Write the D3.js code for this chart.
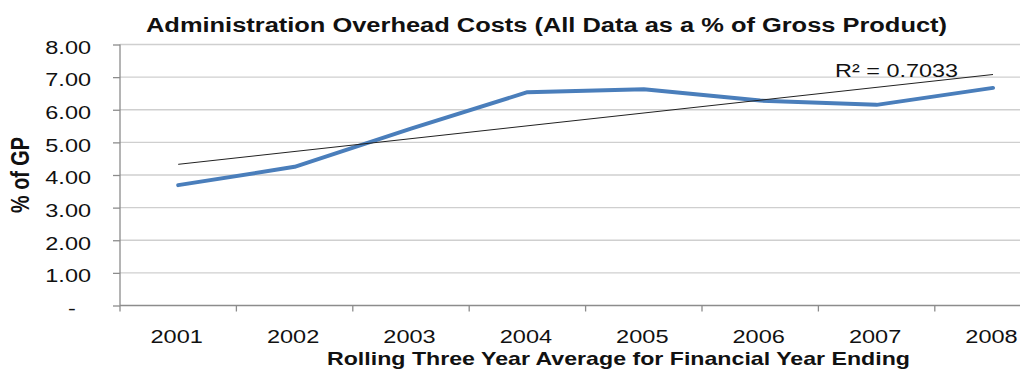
<!DOCTYPE html>
<html>
<head>
<meta charset="utf-8">
<script src="https://cdn.jsdelivr.net/npm/d3@7"></script>
<style>
  html, body { margin: 0; padding: 0; background: #fff; overflow: hidden; }
  svg { display: block; font-family: "Liberation Sans", Arial, sans-serif; }
</style>
</head>
<body>
<svg id="chart" width="1020" height="369"></svg>
<script>
// Rolling three-year average of admin overhead, % of gross product
const years = ["2001", "2002", "2003", "2004", "2005", "2006", "2007", "2008"];
const overheadPct = [3.69, 4.25, 5.42, 6.54, 6.63, 6.28, 6.15, 6.67];
const yTicks = [0, 1, 2, 3, 4, 5, 6, 7, 8];
const r2Label = "R\u00B2 = 0.7033";

const svg = d3.select("#chart");
const plotLeft = 120, plotTop = 44.5, plotBottom = 305.5, bandW = 116.4;
const axisGrey = "#8c8c8c", ink = "#111";
const wide = 1.27;   // horizontal stretch of the lettering

const x = d3.scaleBand().domain(years).range([plotLeft, plotLeft + bandW * years.length]);
const y = d3.scaleLinear().domain([0, 8]).range([plotBottom, plotTop]);
const cx = d => x(d) + x.bandwidth() / 2;

// horizontal gridlines
svg.append("g").selectAll("line")
  .data(yTicks.filter(t => t > 0))
  .join("line")
  .attr("x1", plotLeft).attr("x2", 1020)
  .attr("y1", d => y(d)).attr("y2", d => y(d))
  .attr("stroke", "#cfcfcf").attr("stroke-width", 1.3);

// y axis (accounting style: zero shown as a centred dash)
const yAxis = d3.axisLeft(y).tickValues(yTicks).tickSize(7).tickPadding(0)
  .tickFormat(d => d === 0 ? "-" : d3.format(".2f")(d));
const gy = svg.append("g").attr("transform", `translate(${plotLeft},0)`).call(yAxis);
gy.select(".domain").attr("stroke", axisGrey).attr("stroke-width", 1.3)
  .attr("d", `M0,${plotTop}V${plotBottom}`);
gy.selectAll(".tick line").attr("stroke", axisGrey).attr("stroke-width", 1.3);
gy.selectAll(".tick text")
  .attr("x", null).attr("dy", null).attr("y", 0)
  .attr("text-anchor", d => d === 0 ? "middle" : "end")
  .attr("transform", d => d === 0
    ? `translate(-48,8.8) scale(${wide},1)`
    : `translate(-29,8.8) scale(${wide},1)`)
  .attr("font-size", 18.5).attr("fill", ink)
  .attr("font-family", "Liberation Sans, Arial, sans-serif");

// x axis: baseline, ticks at category boundaries, centred labels
svg.append("line")
  .attr("x1", plotLeft).attr("x2", 1020).attr("y1", plotBottom).attr("y2", plotBottom)
  .attr("stroke", axisGrey).attr("stroke-width", 1.3);
svg.append("g").selectAll("line")
  .data(years)
  .join("line")
  .attr("x1", d => x(d)).attr("x2", d => x(d))
  .attr("y1", plotBottom).attr("y2", plotBottom + 6)
  .attr("stroke", axisGrey).attr("stroke-width", 1.3);
svg.append("g").selectAll("text")
  .data(years)
  .join("text")
  .attr("transform", d => `translate(${cx(d) - 1.5},342.8) scale(1.24,1)`)
  .attr("text-anchor", "middle").attr("font-size", 19).attr("fill", ink)
  .text(d => d);

// data line
const line = d3.line().x((d, i) => cx(years[i])).y(d => y(d));
svg.append("path")
  .datum(overheadPct)
  .attr("d", line)
  .attr("fill", "none").attr("stroke", "#4a7ebb").attr("stroke-width", 4)
  .attr("stroke-linejoin", "round").attr("stroke-linecap", "round");

// linear trend (least squares over category index)
const n = overheadPct.length;
const xs = d3.range(1, n + 1);
const mx = d3.mean(xs), my = d3.mean(overheadPct);
const slope = d3.sum(xs, (v, i) => (v - mx) * (overheadPct[i] - my)) /
              d3.sum(xs, v => (v - mx) * (v - mx));
const icpt = my - slope * mx;
svg.append("line")
  .attr("x1", cx(years[0])).attr("y1", y(icpt + slope * 1))
  .attr("x2", cx(years[n - 1])).attr("y2", y(icpt + slope * n))
  .attr("stroke", "#222").attr("stroke-width", 1);

svg.append("text")
  .attr("x", 835).attr("y", 76.7)
  .attr("font-size", 18.6).attr("fill", ink)
  .attr("textLength", 123).attr("lengthAdjust", "spacingAndGlyphs")
  .text(r2Label);

// titles
svg.append("text")
  .attr("x", 146).attr("y", 31.7)
  .attr("font-size", 20).attr("font-weight", "bold").attr("fill", ink)
  .attr("textLength", 801).attr("lengthAdjust", "spacingAndGlyphs")
  .text("Administration Overhead Costs (All Data as a % of Gross Product)");

svg.append("text")
  .attr("transform", `translate(29,175) scale(1.3,1) rotate(-90)`)
  .attr("text-anchor", "middle").attr("font-size", 19.8).attr("font-weight", "bold")
  .attr("fill", ink)
  .text("% of GP");

svg.append("text")
  .attr("x", 327).attr("y", 364.8)
  .attr("font-size", 19).attr("font-weight", "bold").attr("fill", ink)
  .attr("textLength", 583).attr("lengthAdjust", "spacingAndGlyphs")
  .text("Rolling Three Year Average for Financial Year Ending");
</script>
</body>
</html>
